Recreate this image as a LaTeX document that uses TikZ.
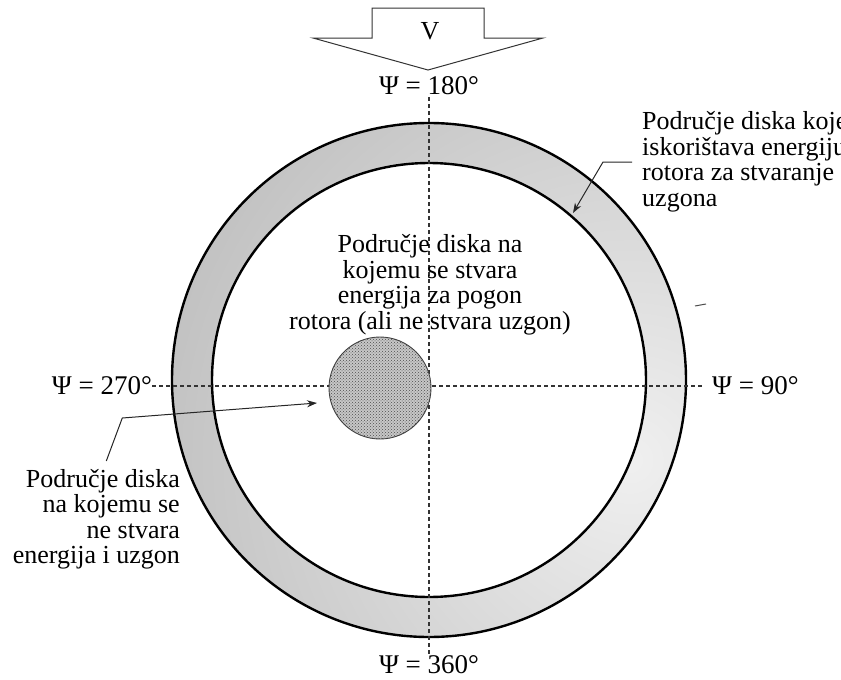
\documentclass[tikz,border=0pt]{standalone}
\usepackage{fontspec}
\setmainfont{Liberation Serif}
\usetikzlibrary{arrows.meta,patterns}

\begin{document}
\begin{tikzpicture}[x=1pt, y=-1pt,
    every node/.style={font=\fontsize{26}{25.5}\selectfont, inner sep=0pt},
    angle/.style={font=\fontsize{27}{28}\selectfont},
    guide/.style={draw=black!80, line width=1.1pt, dash pattern=on 4pt off 3pt},
    rim/.style={draw=black, line width=2.4pt},
    hub/.style={draw=black!75, line width=0.9pt, fill=black!22,
      postaction={pattern=crosshatch dots, pattern color=black!70}},
    pointer/.style={draw=black!85, line width=1pt, -{Stealth[length=10pt,width=7pt]}},
    flowarrow/.style={draw=black!80, line width=1pt, fill=white, line join=miter}
  ]
  \useasboundingbox[fill=white] (0,0) rectangle (841,680);

  % free stream
  \draw[flowarrow] (372,8) -- (484,8) -- (484,38) -- (543,38) -- (428,70)
    -- (313,38) -- (372,38) -- cycle;
  \node (vel) at (430,31) {V};

  % rotor disk
  \begin{scope}
    \clip (429,380) circle[radius=257pt];
    \shade[inner color=black!6, outer color=black!40] (630,460) circle[radius=900pt];
  \end{scope}
  \draw[rim] (429,380) circle[radius=257pt];
  \draw[rim, fill=white] (429,380) circle[radius=217pt];

  % azimuth labels
  \node[angle] (psi180) at (429,86) {Ψ = 180°};
  \node[angle] (psi360) at (429,665) {Ψ = 360°};
  \node[angle, anchor=east] (psi270) at (152,386) {Ψ = 270°};
  \node[angle, anchor=west] (psi90) at (712,386) {Ψ = 90°};

  % axes
  \draw[guide, shorten <=2pt, shorten >=2pt] (psi180) -- (psi360);
  \draw[guide, shorten >=9pt] (psi270) -- (psi90);

  % hub
  \draw[hub] (380,388) circle[radius=51pt];

  % notes
  \node[align=left, anchor=west] (lift) at (642,162)
    {Područje diska koje\\iskorištava energiju\\rotora za stvaranje\\uzgona};
  \node[align=center] (drive) at (430,285)
    {Područje diska na\\kojemu se stvara\\energija za pogon\\rotora (ali ne stvara uzgon)};
  \node[align=right, anchor=north east] (dead) at (180,469)
    {Područje diska\\na kojemu se\\ne stvara\\energija i uzgon};

  \coordinate (liftend) at (573,213);
  \coordinate (hubend) at (317,403);
  \draw[pointer] ([xshift=-10pt]lift.west) -- ++(-29,0) -- (liftend);
  \draw[pointer] ([shift={(10,-8)}]dead.north) -- ++(16,-43) -- (hubend);

  \draw[black!70, line width=1pt] (695,306) -- (706,304);

\end{tikzpicture}
\end{document}
